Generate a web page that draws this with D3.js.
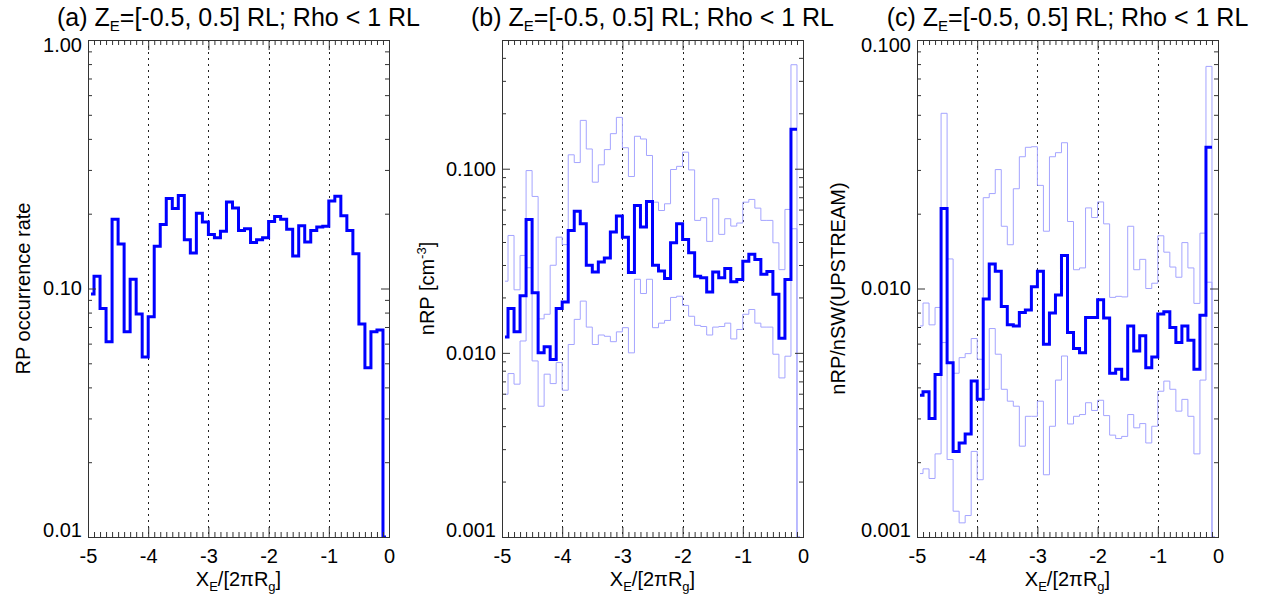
<!DOCTYPE html>
<html>
<head>
<meta charset="utf-8">
<script src="https://cdn.jsdelivr.net/npm/d3@7"></script>
<style>
  body { margin: 0; background: #fff; }
  text { font-family: "Liberation Sans", Arial, Helvetica, sans-serif; }
</style>
</head>
<body>
<div id="chart"></div>
<script>
// Size of the whole figure
var w = 1272;
var h = 595;

// Bin centres along X_E (units of 2*pi*R_g)
var binCenters = [-4.95, -4.85, -4.75, -4.65, -4.55, -4.45, -4.35, -4.25, -4.15, -4.05,
                  -3.95, -3.85, -3.75, -3.65, -3.55, -3.45, -3.35, -3.25, -3.15, -3.05,
                  -2.95, -2.85, -2.75, -2.65, -2.55, -2.45, -2.35, -2.25, -2.15, -2.05,
                  -1.95, -1.85, -1.75, -1.65, -1.55, -1.45, -1.35, -1.25, -1.15, -1.05,
                  -0.95, -0.85, -0.75, -0.65, -0.55, -0.45, -0.35, -0.25, -0.15, -0.05];

// (a) RP occurrence rate
var occurrenceRate = [0.095, 0.112, 0.083, 0.061, 0.190, 0.151, 0.067, 0.109, 0.079, 0.053,
                      0.077, 0.148, 0.181, 0.230, 0.210, 0.237, 0.157, 0.139, 0.201, 0.185,
                      0.165, 0.160, 0.170, 0.223, 0.211, 0.171, 0.174, 0.153, 0.157, 0.160,
                      0.186, 0.195, 0.190, 0.173, 0.135, 0.179, 0.154, 0.171, 0.177, 0.178,
                      0.225, 0.235, 0.196, 0.171, 0.138, 0.072, 0.048, 0.067, 0.068, 0];

// (b) nRP [cm^-3]: main curve and the light upper / lower curves
var nrpMain = [0.0122, 0.0174, 0.0130, 0.0204, 0.0530, 0.0212, 0.0100, 0.0108, 0.0092, 0.0174,
               0.0189, 0.0462, 0.0588, 0.0503, 0.0299, 0.0275, 0.0311, 0.0327, 0.0453, 0.0553,
               0.0425, 0.0273, 0.0632, 0.0482, 0.0664, 0.0299, 0.0278, 0.0253, 0.0396, 0.0503,
               0.0413, 0.0350, 0.0261, 0.0256, 0.0214, 0.0275, 0.0256, 0.0287, 0.0243, 0.0250,
               0.0314, 0.0343, 0.0321, 0.0267, 0.0277, 0.0208, 0.0120, 0.0250, 0.164, null];
var nrpUpper = [0.0245, 0.0434, 0.0220, 0.0338, 0.0977, 0.0707, 0.0153, 0.0162, 0.0299, 0.0425,
                0.0387, 0.119, 0.108, 0.183, 0.128, 0.0845, 0.105, 0.127, 0.155, 0.190,
                0.130, 0.0907, 0.150, 0.145, 0.118, 0.0658, 0.0593, 0.0645, 0.0990, 0.103,
                0.123, 0.0985, 0.0524, 0.0542, 0.0403, 0.0687, 0.0440, 0.0535, 0.0488, 0.0507,
                0.0658, 0.0681, 0.0611, 0.0524, 0.0524, 0.0396, 0.0283, 0.0601, 0.367, 0];
var nrpLower = [0.00596, 0.00772, 0.00676, 0.0116, 0.0290, 0.00904, 0.00513, 0.00766, 0.00681, 0.00886,
                0.00627, 0.0111, 0.0152, 0.0191, 0.0138, 0.0111, 0.0125, 0.0123, 0.0115, 0.0130,
                0.0137, 0.0100, 0.0251, 0.0210, 0.0251, 0.0137, 0.0145, 0.0150, 0.0200, 0.0203,
                0.0181, 0.0158, 0.0141, 0.0139, 0.0125, 0.0138, 0.0139, 0.0145, 0.0119, 0.0134,
                0.0162, 0.0172, 0.0145, 0.0138, 0.0138, 0.00983, 0.00731, 0.00959, 0.0472, 0];

// (c) nRP/nSW(UPSTREAM): main curve and the light upper / lower curves
var ratioMain = [0.00372, 0.00384, 0.00300, 0.00451, 0.0210, 0.00503, 0.00221, 0.00239, 0.00260, 0.00424,
                 0.00358, 0.00907, 0.01256, 0.01173, 0.00847, 0.00714, 0.00707, 0.00801, 0.00819, 0.01017,
                 0.01173, 0.00597, 0.00796, 0.00941, 0.01357, 0.00665, 0.00573, 0.00552, 0.00765, 0.00765,
                 0.00901, 0.00760, 0.00456, 0.00473, 0.00431, 0.00707, 0.00561, 0.00645, 0.00480, 0.00530,
                 0.00789, 0.00806, 0.00697, 0.00606, 0.00707, 0.00619, 0.00473, 0.00781, 0.0370, null];
var ratioUpper = [0.00707, 0.00874, 0.00714, 0.00839, 0.0507, 0.01315, 0.00456, 0.00527, 0.00547, 0.00629,
                  0.00519, 0.0232, 0.0241, 0.0301, 0.0178, 0.0150, 0.0252, 0.0339, 0.0370, 0.0372,
                  0.0260, 0.0170, 0.0339, 0.0352, 0.0386, 0.0186, 0.0119, 0.0121, 0.0211, 0.0193,
                  0.0223, 0.0182, 0.00921, 0.00930, 0.00925, 0.0178, 0.0119, 0.0131, 0.0100, 0.0105,
                  0.0163, 0.0140, 0.0122, 0.0111, 0.0153, 0.0121, 0.00871, 0.0167, 0.0783, 0];
var ratioLower = [0.00180, 0.00188, 0.00172, 0.00216, 0.00606, 0.00205, 0.00127, 0.00114, 0.00122, 0.00221,
                  0.00170, 0.00393, 0.00690, 0.00544, 0.00393, 0.00352, 0.00336, 0.00232, 0.00306, 0.00306,
                  0.00352, 0.00178, 0.00279, 0.00428, 0.00535, 0.00285, 0.00306, 0.00311, 0.00347, 0.00323,
                  0.00355, 0.00308, 0.00257, 0.00249, 0.00254, 0.00311, 0.00275, 0.00286, 0.00239, 0.00279,
                  0.00386, 0.00424, 0.00393, 0.00321, 0.00358, 0.00306, 0.00216, 0.00428, 0.0106, 0];

// Tick values and labels
var xTicks = [-5, -4, -3, -2, -1, 0];
var xTickLabels = ["-5", "-4", "-3", "-2", "-1", "0"];
var gridX = [-4, -3, -2, -1];
var yTicksA = [0.01, 0.1, 1];
var yTickLabelsA = ["0.01", "0.10", "1.00"];
var yTicksB = [0.001, 0.01, 0.1];
var yTickLabelsB = ["0.001", "0.010", "0.100"];
var yTicksC = [0.001, 0.01, 0.1];
var yTickLabelsC = ["0.001", "0.010", "0.100"];

// Panel layout
var plotTop = 40, plotBottom = 537, plotWidth = 301;
var panels = [
  { letter: "(a)", left: 88, yDomain: [0.01, 1], yTicks: yTicksA, yLabels: yTickLabelsA,
    main: occurrenceRate, light: [], yTitleX: 30, yTitle: [["RP occurrence rate", 0]] },
  { letter: "(b)", left: 502, yDomain: [0.001, 0.5], yTicks: yTicksB, yLabels: yTickLabelsB,
    main: nrpMain, light: [nrpUpper, nrpLower], yTitleX: 434, yTitle: [["nRP [cm", 0], ["-3", 1], ["]", 0]] },
  { letter: "(c)", left: 917, yDomain: [0.001, 0.1], yTicks: yTicksC, yLabels: yTickLabelsC,
    main: ratioMain, light: [ratioUpper, ratioLower], yTitleX: 845, yTitle: [["nRP/nSW(UPSTREAM)", 0]] }
];

var svg = d3.select("#chart")
    .append("svg")
    .attr("width", w)
    .attr("height", h);

// IDL psym=10 style histogram: flat segment centred on each point, steps at midpoints
function stepPoints(xs, ys) {
  var pts = [];
  for (var i = 0; i < xs.length; i++) {
    if (ys[i] == null) { pts.push(null); continue; }
    var x0 = i == 0 ? xs[0] : (xs[i - 1] + xs[i]) / 2;
    var x1 = i == xs.length - 1 ? xs[i] : (xs[i] + xs[i + 1]) / 2;
    pts.push([x0, ys[i]]);
    pts.push([x1, ys[i]]);
  }
  return pts;
}

// log minor ticks 2..9 within the domain
function logMinors(domain) {
  var out = [];
  for (var e = Math.floor(Math.log10(domain[0])); e < Math.ceil(Math.log10(domain[1])); e++) {
    for (var m = 2; m <= 9; m++) {
      var v = m * Math.pow(10, e);
      if (v > domain[0] && v <= domain[1] * 1.0001) out.push(v);
    }
  }
  return out;
}

var xMinors = d3.range(-49, 0).map(function(d) { return d / 10; })
    .filter(function(d) { return Math.abs(d - Math.round(d)) > 1e-6; });

function styleAxis(g) {
  g.select(".domain").remove();
  g.selectAll(".tick line").attr("stroke", "#333");
  g.selectAll(".tick text").attr("fill", "#000").style("font-size", "20px")
    .style("font-family", '"Liberation Sans", Arial, Helvetica, sans-serif');
}

panels.forEach(function(p, k) {
  var x = d3.scaleLinear().domain([-5, 0]).range([p.left, p.left + plotWidth]);
  var y = d3.scaleLog().domain(p.yDomain).range([plotBottom, plotTop]).clamp(true);
  var g = svg.append("g");

  g.append("clipPath").attr("id", "clip" + k)
    .append("rect")
    .attr("x", p.left).attr("y", plotTop)
    .attr("width", plotWidth).attr("height", plotBottom - plotTop + 1);

  // dotted vertical lines
  g.selectAll(".grid").data(gridX).enter().append("line")
    .attr("x1", function(d) { return Math.round(x(d)) + 0.5; })
    .attr("x2", function(d) { return Math.round(x(d)) + 0.5; })
    .attr("y1", plotTop).attr("y2", plotBottom)
    .attr("stroke", "#222").attr("stroke-width", 1)
    .attr("stroke-dasharray", "2,4");

  var line = d3.line()
    .defined(function(d) { return d != null; })
    .x(function(d) { return x(d[0]); })
    .y(function(d) { return y(d[1]); });

  var lines = g.append("g").attr("clip-path", "url(#clip" + k + ")");
  p.light.forEach(function(s) {
    lines.append("path")
      .attr("d", line(stepPoints(binCenters, s)))
      .attr("fill", "none").attr("stroke", "#a4a4ff").attr("stroke-width", 1);
  });
  lines.append("path")
    .attr("d", line(stepPoints(binCenters, p.main)))
    .attr("fill", "none").attr("stroke", "#0000ff").attr("stroke-width", 3)
    .attr("stroke-linejoin", "miter");

  // axes: ticks point inwards on all four sides
  g.append("g").attr("transform", "translate(0," + plotBottom + ")")
    .call(d3.axisBottom(x).tickValues(xTicks)
      .tickFormat(function(d, i) { return xTickLabels[i]; })
      .tickSize(-10).tickSizeOuter(0).tickPadding(12))
    .call(styleAxis);
  g.append("g").attr("transform", "translate(0," + plotBottom + ")")
    .call(d3.axisBottom(x).tickValues(xMinors).tickFormat("").tickSize(-5).tickSizeOuter(0))
    .call(styleAxis);
  g.append("g").attr("transform", "translate(0," + plotTop + ")")
    .call(d3.axisTop(x).tickValues(xTicks).tickFormat("").tickSize(-10).tickSizeOuter(0))
    .call(styleAxis);
  g.append("g").attr("transform", "translate(0," + plotTop + ")")
    .call(d3.axisTop(x).tickValues(xMinors).tickFormat("").tickSize(-5).tickSizeOuter(0))
    .call(styleAxis);

  var yAxis = g.append("g").attr("transform", "translate(" + p.left + ",0)")
    .call(d3.axisLeft(y).tickValues(p.yTicks)
      .tickFormat(function(d, i) { return p.yLabels[i]; })
      .tickSize(-8).tickSizeOuter(0).tickPadding(6))
    .call(styleAxis);
  // end labels sit a little inside the frame
  yAxis.selectAll(".tick text").attr("dy", function(d) {
    if (Math.abs(d - p.yDomain[0]) < 1e-12) return "-0.03em";
    if (Math.abs(d - p.yDomain[1]) < 1e-12) return "0.55em";
    return "0.32em";
  });
  g.append("g").attr("transform", "translate(" + p.left + ",0)")
    .call(d3.axisLeft(y).tickValues(logMinors(p.yDomain)).tickFormat("").tickSize(-4).tickSizeOuter(0))
    .call(styleAxis);
  g.append("g").attr("transform", "translate(" + (p.left + plotWidth) + ",0)")
    .call(d3.axisRight(y).tickValues(p.yTicks).tickFormat("").tickSize(-8).tickSizeOuter(0))
    .call(styleAxis);
  g.append("g").attr("transform", "translate(" + (p.left + plotWidth) + ",0)")
    .call(d3.axisRight(y).tickValues(logMinors(p.yDomain)).tickFormat("").tickSize(-4).tickSizeOuter(0))
    .call(styleAxis);

  // frame
  g.append("rect")
    .attr("x", p.left + 0.5).attr("y", plotTop + 0.5)
    .attr("width", plotWidth).attr("height", plotBottom - plotTop)
    .attr("fill", "none").attr("stroke", "#333").attr("stroke-width", 1);

  // title
  var t = g.append("text")
    .attr("x", p.left + plotWidth / 2).attr("y", 26)
    .attr("text-anchor", "middle").style("font-size", "25px");
  t.append("tspan").text(p.letter + " Z");
  t.append("tspan").text("E").attr("dy", 5).style("font-size", "15px");
  t.append("tspan").text("=[-0.5, 0.5] RL; Rho < 1 RL").attr("dy", -5);

  // x title
  var xt = g.append("text")
    .attr("x", p.left + plotWidth / 2).attr("y", 586)
    .attr("text-anchor", "middle").style("font-size", "20px");
  xt.append("tspan").text("X");
  xt.append("tspan").text("E").attr("dy", 5).style("font-size", "13px");
  xt.append("tspan").text("/[2\u03c0R").attr("dy", -5);
  xt.append("tspan").text("g").attr("dy", 5).style("font-size", "13px");
  xt.append("tspan").text("]").attr("dy", -5);

  // y title
  var yt = g.append("text")
    .attr("transform", "translate(" + p.yTitleX + "," + ((plotTop + plotBottom) / 2) + ") rotate(-90)")
    .attr("text-anchor", "middle").style("font-size", "20px");
  p.yTitle.forEach(function(part) {
    var s = yt.append("tspan").text(part[0]);
    if (part[1] == 1) s.attr("dy", -8).style("font-size", "13px");
    else if (s.node().previousSibling) s.attr("dy", 8);
  });
});
</script>
</body>
</html>
